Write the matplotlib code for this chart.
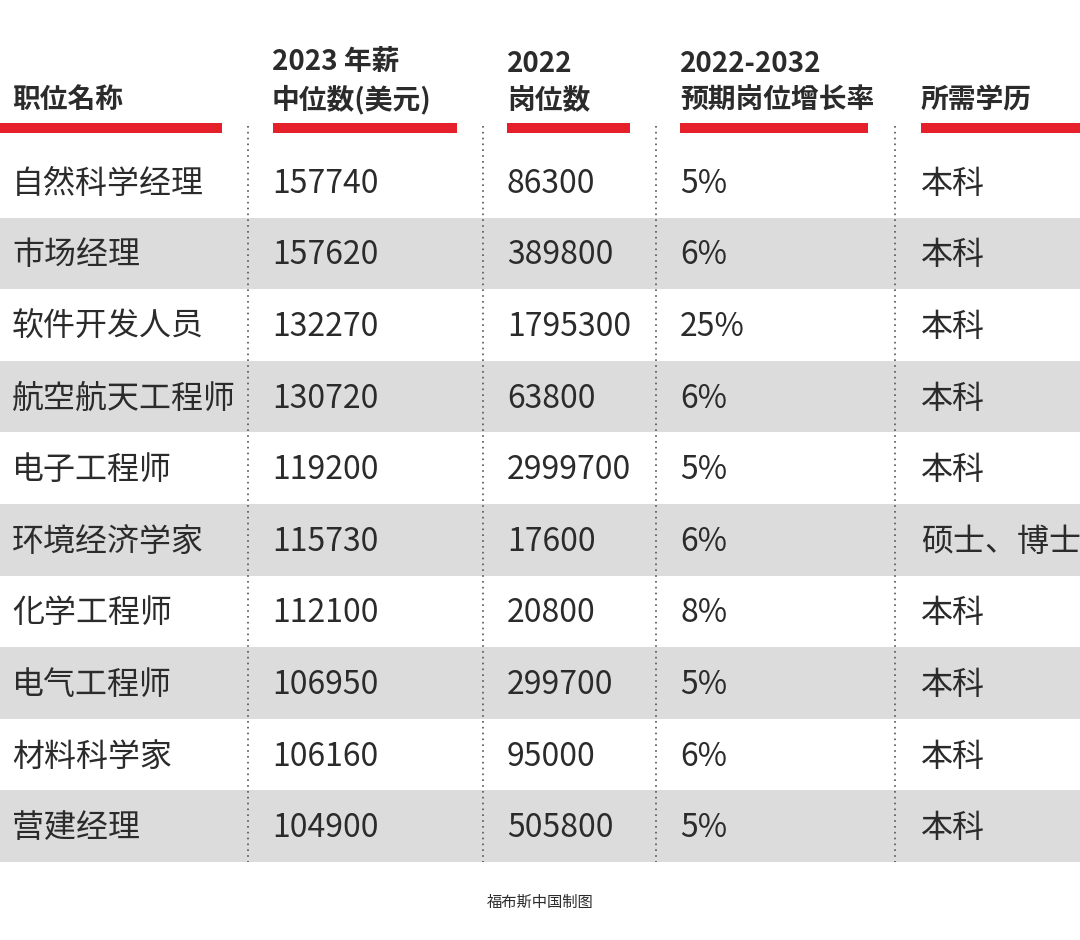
import matplotlib.pyplot as plt
from matplotlib import font_manager
from matplotlib.patches import Rectangle

# pick whatever CJK family is actually registered
cjk = [f.name for f in font_manager.fontManager.ttflist if 'CJK' in f.name]
if not cjk:
    import glob
    for p in glob.glob('/usr/share/fonts/**/*CJK*', recursive=True):
        font_manager.fontManager.addfont(p)
    cjk = [f.name for f in font_manager.fontManager.ttflist if 'CJK' in f.name]
fam = 'Noto Sans CJK SC' if 'Noto Sans CJK SC' in cjk else (cjk[0] if cjk else 'DejaVu Sans')
plt.rcParams['font.family'] = [fam, 'DejaVu Sans']

# ── DATA ──────────────────────────────────────────────────────────────────────
headers = ['职位名称', '2023 年薪\n中位数(美元)', '2022\n岗位数', '2022-2032\n预期岗位增长率', '所需学历']
jobs = ['自然科学经理', '市场经理', '软件开发人员', '航空航天工程师', '电子工程师',
        '环境经济学家', '化学工程师', '电气工程师', '材料科学家', '营建经理']
salary = [157740, 157620, 132270, 130720, 119200, 115730, 112100, 106950, 106160, 104900]
positions = [86300, 389800, 1795300, 63800, 2999700, 17600, 20800, 299700, 95000, 505800]
growth = ['5%', '6%', '25%', '6%', '5%', '6%', '8%', '5%', '6%', '5%']
degree = ['本科', '本科', '本科', '本科', '本科', '硕士、博士', '本科', '本科', '本科', '本科']
footer = '福布斯中国制图'

# ── LAYOUT (pixel coords) ─────────────────────────────────────────────────────
col_x = [12, 272, 507, 680, 921]
bar_spans = [(0, 222), (273, 457), (507, 630), (680, 868), (921, 1080)]
sep_x = [248, 483, 656, 895]
row_top, row_h = 146, 71.6
RED, GRAY, TXT = '#e5202a', '#dcdcdc', '#2b2b2b'

fig = plt.figure(figsize=(10.8, 9.4), dpi=100)
ax = fig.add_axes([0, 0, 1, 1])
ax.set_xlim(0, 1080)
ax.set_ylim(940, 0)
ax.axis('off')

for x, h in zip(col_x, headers):
    ax.text(x, 114, h, fontsize=20, fontweight='bold', color=TXT,
            ha='left', va='bottom', linespacing=1.35)
for a, b in bar_spans:
    ax.add_patch(Rectangle((a, 123), b - a, 10, color=RED, lw=0))

for i in range(len(jobs)):
    top = row_top + i * row_h
    if i % 2 == 1:
        ax.add_patch(Rectangle((0, top), 1080, row_h, color=GRAY, lw=0, zorder=0))
    yc = top + row_h / 2 + 2
    vals = [jobs[i], str(salary[i]), str(positions[i]), growth[i], degree[i]]
    for x, v in zip(col_x, vals):
        ax.text(x, yc, v, fontsize=23, color=TXT, ha='left', va='center')

bottom = row_top + len(jobs) * row_h
for x in sep_x:
    ax.plot([x, x], [126, bottom], color='#555555', lw=1.2, ls=(0, (1, 2.5)), zorder=3)

ax.text(540, 902, footer, fontsize=11, color=TXT, ha='center', va='center')

fig.savefig('out.png', dpi=100, facecolor='white')
